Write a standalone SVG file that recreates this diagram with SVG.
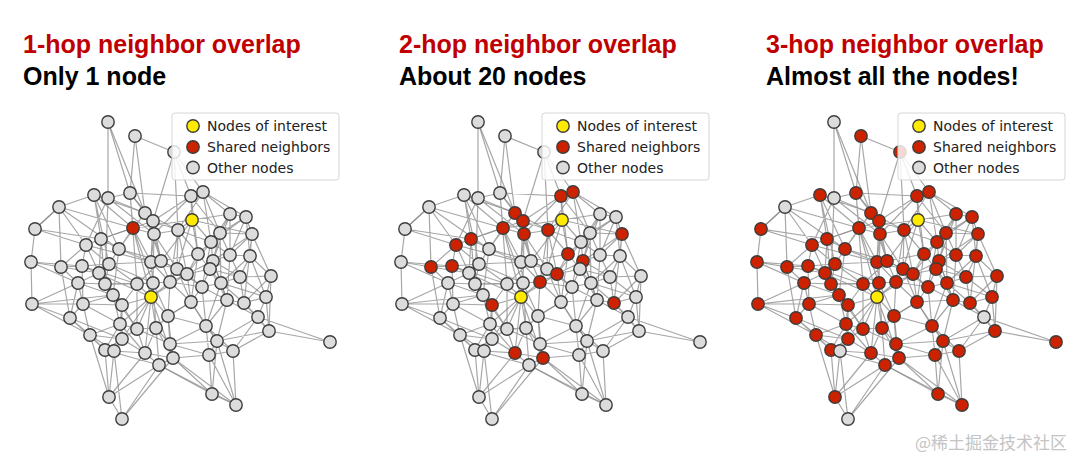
<svg xmlns="http://www.w3.org/2000/svg" xmlns:xlink="http://www.w3.org/1999/xlink" width="1080" height="460" viewBox="0 0 1080 460">
<style>
.t1{font-family:"Liberation Sans",Arial,sans-serif;font-weight:bold;font-size:25px;fill:#c00000}
.t2{font-family:"Liberation Sans",Arial,sans-serif;font-weight:bold;font-size:25px;fill:#000}
.lg{font-family:"DejaVu Sans","Liberation Sans",sans-serif;font-size:14px;fill:#222}
.e{fill:none;stroke:#8a8a8a;stroke-width:1.2;stroke-opacity:0.75}
circle{stroke:#3d3d3d;stroke-width:1.4}
.g{fill:#dcdcdc}
.r{fill:#cc2200}
.y{fill:#ffea00}
.box{fill:#fff;fill-opacity:0.82;stroke:#d6d6d6;stroke-width:1}
.wm{font-family:"Noto Sans CJK SC","Liberation Sans",sans-serif;font-size:17px;fill:#c4c4c4}
</style>
<defs>
<g id="edgeset">
<path class="e" d="M108 122L108 198M108 122L145 213M135 136L174 152M135 136L145 213M174 152L153 221M174 152L178 230M174 152L203 192M94 195L108 198M94 195L59 207M94 195L101 239M94 195L119 249M94 195L109 264M94 195L145 213M108 198L130 193M108 198L86 245M108 198L154 234M108 198L105 284M130 193L145 213M130 193L191 196M130 193L133 228M130 193L137 284M59 207L35 229M59 207L86 245M59 207L61 267M59 207L133 228M191 196L203 192M191 196L192 220M191 196L153 221M191 196L220 233M191 196L154 234M203 192L230 214M203 192L246 217M203 192L178 230M203 192L211 242M145 213L153 221M145 213L133 228M145 213L119 249M145 213L161 261M153 221L154 234M153 221L178 230M153 221L101 239M153 221L151 262M192 220L133 228M192 220L178 230M192 220L230 214M192 220L252 234M192 220L198 254M192 220L211 242M230 214L246 217M230 214L220 233M230 214L230 255M230 214L210 269M246 217L252 234M246 217L250 256M246 217L220 233M35 229L31 262M35 229L86 245M35 229L101 239M133 228L154 234M133 228L101 239M133 228L151 297M133 228L151 262M133 228L119 249M154 234L178 230M154 234L161 261M154 234L177 269M154 234L153 283M178 230L198 254M178 230L177 269M178 230L170 282M220 233L211 242M220 233L252 234M220 233L213 261M220 233L221 283M252 234L250 256M252 234L271 276M252 234L230 255M252 234L244 303M101 239L86 245M101 239L119 249M101 239L99 273M101 239L105 284M86 245L82 266M86 245L61 267M86 245L109 264M119 249L109 264M119 249L151 262M119 249L113 295M211 242L198 254M211 242L213 261M211 242L187 274M211 242L202 287M198 254L161 261M198 254L187 274M198 254L210 269M198 254L191 302M230 255L250 256M230 255L213 261M230 255L240 277M230 255L227 300M250 256L271 276M250 256L240 277M250 256L266 297M31 262L61 267M31 262L32 304M31 262L78 283M61 267L82 266M61 267L78 283M61 267L70 318M82 266L109 264M82 266L99 273M82 266L83 304M82 266L151 297M109 264L105 284M109 264L137 284M109 264L151 262M151 262L161 261M151 262L153 283M151 262L177 269M161 261L177 269M161 261L170 282M161 261L137 284M177 269L187 274M177 269L202 287M177 269L170 282M213 261L210 269M213 261L240 277M213 261L221 283M213 261L187 274M187 274L210 269M187 274L170 282M187 274L191 302M187 274L151 297M210 269L202 287M210 269L221 283M210 269L227 300M99 273L78 283M99 273L105 284M99 273L113 295M271 276L240 277M271 276L266 297M271 276L269 331M240 277L221 283M240 277L244 303M240 277L266 297M78 283L83 304M78 283L70 318M78 283L105 284M105 284L113 295M105 284L137 284M105 284L122 305M137 284L153 283M137 284L122 305M137 284L137 329M153 283L170 282M153 283L151 297M153 283L156 328M170 282L151 297M170 282L168 316M170 282L191 302M202 287L221 283M202 287L191 302M202 287L206 326M221 283L227 300M221 283L244 303M151 297L122 305M151 297L156 328M151 297L145 353M151 297L173 358M151 297L168 316M113 295L122 305M113 295L120 324M113 295L83 304M32 304L83 304M32 304L70 318M32 304L90 335M32 304L113 295M83 304L70 318M83 304L120 324M83 304L90 335M122 305L120 324M122 305L137 329M122 305L122 339M191 302L168 316M191 302L206 326M191 302L227 300M227 300L244 303M227 300L258 317M227 300L206 326M227 300L217 341M244 303L266 297M244 303L258 317M244 303L269 331M266 297L258 317M266 297L269 331M70 318L90 335M70 318L105 350M168 316L156 328M168 316L170 344M168 316L206 326M258 317L269 331M258 317L330 342M258 317L233 351M258 317L217 341M120 324L137 329M120 324L122 339M120 324L105 350M137 329L156 328M137 329L145 353M137 329L122 339M156 328L170 344M156 328L159 365M206 326L217 341M206 326L209 355M206 326L170 344M269 331L330 342M269 331L217 341M269 331L233 351M90 335L122 339M90 335L105 350M90 335L109 397M122 339L114 351M122 339L145 353M170 344L173 358M170 344L209 355M170 344L217 341M217 341L209 355M217 341L233 351M217 341L236 405M105 350L114 351M105 350L109 397M114 351L145 353M114 351L109 397M114 351L122 419M145 353L173 358M145 353L159 365M173 358L159 365M173 358L212 394M173 358L236 405M209 355L233 351M209 355L212 394M233 351L236 405M159 365L109 397M159 365L122 419M159 365L212 394M109 397L122 419M212 394L236 405"/>
<path class="e" d="M94 195L133 228M130 193L153 221M145 213L178 230M108 198L145 213M135 136L130 193M86 245L151 262M119 249L161 261M109 264L153 283M105 284L153 283M82 266L137 284M99 273L122 305M113 295L137 329M78 283L113 295M83 304L122 305M90 335L120 324M122 339L105 350M145 353L156 328M137 329L170 344M156 328L173 358M168 316L173 358M168 316L191 302M170 282L202 287M153 283L168 316M187 274L202 287M177 269L191 302M161 261L187 274M170 282L151 262M154 234L151 262M153 221L161 261M178 230L211 242M178 230L187 274M191 196L198 254M203 192L220 233M230 214L211 242M220 233L230 255M211 242L230 255M213 261L227 300M210 269L240 277M202 287L227 300M221 283L206 326M191 302L217 341M206 326L233 351M170 344L173 358M173 358L209 355M159 365L236 405M59 207L119 249M86 245L99 273M61 267L99 273M31 262L82 266M32 304L78 283M70 318L122 339M90 335L114 351M120 324L145 353M105 350L159 365M109 397L145 353M122 419L173 358M212 394L217 341M236 405L209 355M266 297L221 283M271 276L244 303M250 256L221 283M252 234L213 261M246 217L211 242M246 217L230 255M192 220L177 269M192 220L161 261M133 228L153 283M151 297L137 284M151 297L120 324M151 297L122 339M151 297L137 329M101 239L133 228M35 229L59 207M174 152L191 196M108 122L130 193"/>
</g>
</defs>
<rect width="1080" height="460" fill="#fff"/>

<g id="titles">
<text class="t1" x="23" y="53">1-hop neighbor overlap</text>
<text class="t2" x="23" y="85">Only 1 node</text>
<text class="t1" x="399" y="53">2-hop neighbor overlap</text>
<text class="t2" x="399" y="85">About 20 nodes</text>
<text class="t1" x="766" y="53">3-hop neighbor overlap</text>
<text class="t2" x="766" y="85">Almost all the nodes!</text>
</g>

<!-- Panel 1 -->
<g id="panel1">
<g id="p1-connectors"><use xlink:href="#edgeset" href="#edgeset"/></g>
<g id="p1-nodes">
<g id="p1n1"><circle class="g" cx="108" cy="122" r="6.2"/></g>
<g id="p1n2"><circle class="g" cx="135" cy="136" r="6.2"/></g>
<g id="p1n3"><circle class="g" cx="174" cy="152" r="6.2"/></g>
<g id="p1n4"><circle class="g" cx="94" cy="195" r="6.2"/></g>
<g id="p1n5"><circle class="g" cx="108" cy="198" r="6.2"/></g>
<g id="p1n6"><circle class="g" cx="130" cy="193" r="6.2"/></g>
<g id="p1n7"><circle class="g" cx="59" cy="207" r="6.2"/></g>
<g id="p1n8"><circle class="g" cx="191" cy="196" r="6.2"/></g>
<g id="p1n9"><circle class="g" cx="203" cy="192" r="6.2"/></g>
<g id="p1n10"><circle class="g" cx="145" cy="213" r="6.2"/></g>
<g id="p1n11"><circle class="g" cx="153" cy="221" r="6.2"/></g>
<g id="p1n12"><circle class="y" cx="192" cy="220" r="6.2"/></g>
<g id="p1n13"><circle class="g" cx="230" cy="214" r="6.2"/></g>
<g id="p1n14"><circle class="g" cx="246" cy="217" r="6.2"/></g>
<g id="p1n15"><circle class="g" cx="35" cy="229" r="6.2"/></g>
<g id="p1n16"><circle class="r" cx="133" cy="228" r="6.2"/></g>
<g id="p1n17"><circle class="g" cx="154" cy="234" r="6.2"/></g>
<g id="p1n18"><circle class="g" cx="178" cy="230" r="6.2"/></g>
<g id="p1n19"><circle class="g" cx="220" cy="233" r="6.2"/></g>
<g id="p1n20"><circle class="g" cx="252" cy="234" r="6.2"/></g>
<g id="p1n21"><circle class="g" cx="101" cy="239" r="6.2"/></g>
<g id="p1n22"><circle class="g" cx="86" cy="245" r="6.2"/></g>
<g id="p1n23"><circle class="g" cx="119" cy="249" r="6.2"/></g>
<g id="p1n24"><circle class="g" cx="211" cy="242" r="6.2"/></g>
<g id="p1n25"><circle class="g" cx="198" cy="254" r="6.2"/></g>
<g id="p1n26"><circle class="g" cx="230" cy="255" r="6.2"/></g>
<g id="p1n27"><circle class="g" cx="250" cy="256" r="6.2"/></g>
<g id="p1n28"><circle class="g" cx="31" cy="262" r="6.2"/></g>
<g id="p1n29"><circle class="g" cx="61" cy="267" r="6.2"/></g>
<g id="p1n30"><circle class="g" cx="82" cy="266" r="6.2"/></g>
<g id="p1n31"><circle class="g" cx="109" cy="264" r="6.2"/></g>
<g id="p1n32"><circle class="g" cx="151" cy="262" r="6.2"/></g>
<g id="p1n33"><circle class="g" cx="161" cy="261" r="6.2"/></g>
<g id="p1n34"><circle class="g" cx="177" cy="269" r="6.2"/></g>
<g id="p1n35"><circle class="g" cx="213" cy="261" r="6.2"/></g>
<g id="p1n36"><circle class="g" cx="187" cy="274" r="6.2"/></g>
<g id="p1n37"><circle class="g" cx="210" cy="269" r="6.2"/></g>
<g id="p1n38"><circle class="g" cx="99" cy="273" r="6.2"/></g>
<g id="p1n39"><circle class="g" cx="271" cy="276" r="6.2"/></g>
<g id="p1n40"><circle class="g" cx="240" cy="277" r="6.2"/></g>
<g id="p1n41"><circle class="g" cx="78" cy="283" r="6.2"/></g>
<g id="p1n42"><circle class="g" cx="105" cy="284" r="6.2"/></g>
<g id="p1n43"><circle class="g" cx="137" cy="284" r="6.2"/></g>
<g id="p1n44"><circle class="g" cx="153" cy="283" r="6.2"/></g>
<g id="p1n45"><circle class="g" cx="170" cy="282" r="6.2"/></g>
<g id="p1n46"><circle class="g" cx="202" cy="287" r="6.2"/></g>
<g id="p1n47"><circle class="g" cx="221" cy="283" r="6.2"/></g>
<g id="p1n48"><circle class="y" cx="151" cy="297" r="6.2"/></g>
<g id="p1n49"><circle class="g" cx="113" cy="295" r="6.2"/></g>
<g id="p1n50"><circle class="g" cx="32" cy="304" r="6.2"/></g>
<g id="p1n51"><circle class="g" cx="83" cy="304" r="6.2"/></g>
<g id="p1n52"><circle class="g" cx="122" cy="305" r="6.2"/></g>
<g id="p1n53"><circle class="g" cx="191" cy="302" r="6.2"/></g>
<g id="p1n54"><circle class="g" cx="227" cy="300" r="6.2"/></g>
<g id="p1n55"><circle class="g" cx="244" cy="303" r="6.2"/></g>
<g id="p1n56"><circle class="g" cx="266" cy="297" r="6.2"/></g>
<g id="p1n57"><circle class="g" cx="70" cy="318" r="6.2"/></g>
<g id="p1n58"><circle class="g" cx="168" cy="316" r="6.2"/></g>
<g id="p1n59"><circle class="g" cx="258" cy="317" r="6.2"/></g>
<g id="p1n60"><circle class="g" cx="120" cy="324" r="6.2"/></g>
<g id="p1n61"><circle class="g" cx="137" cy="329" r="6.2"/></g>
<g id="p1n62"><circle class="g" cx="156" cy="328" r="6.2"/></g>
<g id="p1n63"><circle class="g" cx="206" cy="326" r="6.2"/></g>
<g id="p1n64"><circle class="g" cx="269" cy="331" r="6.2"/></g>
<g id="p1n65"><circle class="g" cx="330" cy="342" r="6.2"/></g>
<g id="p1n66"><circle class="g" cx="90" cy="335" r="6.2"/></g>
<g id="p1n67"><circle class="g" cx="122" cy="339" r="6.2"/></g>
<g id="p1n68"><circle class="g" cx="170" cy="344" r="6.2"/></g>
<g id="p1n69"><circle class="g" cx="217" cy="341" r="6.2"/></g>
<g id="p1n70"><circle class="g" cx="105" cy="350" r="6.2"/></g>
<g id="p1n71"><circle class="g" cx="114" cy="351" r="6.2"/></g>
<g id="p1n72"><circle class="g" cx="145" cy="353" r="6.2"/></g>
<g id="p1n73"><circle class="g" cx="173" cy="358" r="6.2"/></g>
<g id="p1n74"><circle class="g" cx="209" cy="355" r="6.2"/></g>
<g id="p1n75"><circle class="g" cx="233" cy="351" r="6.2"/></g>
<g id="p1n76"><circle class="g" cx="159" cy="365" r="6.2"/></g>
<g id="p1n77"><circle class="g" cx="109" cy="397" r="6.2"/></g>
<g id="p1n78"><circle class="g" cx="122" cy="419" r="6.2"/></g>
<g id="p1n79"><circle class="g" cx="212" cy="394" r="6.2"/></g>
<g id="p1n80"><circle class="g" cx="236" cy="405" r="6.2"/></g>
</g>
<g id="p1-legend">
<rect class="box" x="172" y="113" width="167" height="67" rx="3"/>
<circle class="y" cx="193" cy="126" r="6.2"/><text class="lg" x="207" y="131">Nodes of interest</text>
<circle class="r" cx="193" cy="147" r="6.2"/><text class="lg" x="207" y="152">Shared neighbors</text>
<circle class="g" cx="193" cy="167.5" r="6.2"/><text class="lg" x="207" y="172.5">Other nodes</text>
</g>
</g>

<!-- Panel 2 -->
<g id="panel2" transform="translate(370,0)">
<g id="p2-connectors"><use xlink:href="#edgeset" href="#edgeset"/></g>
<g id="p2-nodes">
<g id="p2n1"><circle class="g" cx="108" cy="122" r="6.2"/></g>
<g id="p2n2"><circle class="g" cx="135" cy="136" r="6.2"/></g>
<g id="p2n3"><circle class="g" cx="174" cy="152" r="6.2"/></g>
<g id="p2n4"><circle class="g" cx="94" cy="195" r="6.2"/></g>
<g id="p2n5"><circle class="g" cx="108" cy="198" r="6.2"/></g>
<g id="p2n6"><circle class="g" cx="130" cy="193" r="6.2"/></g>
<g id="p2n7"><circle class="g" cx="59" cy="207" r="6.2"/></g>
<g id="p2n8"><circle class="r" cx="191" cy="196" r="6.2"/></g>
<g id="p2n9"><circle class="r" cx="203" cy="192" r="6.2"/></g>
<g id="p2n10"><circle class="r" cx="145" cy="213" r="6.2"/></g>
<g id="p2n11"><circle class="r" cx="153" cy="221" r="6.2"/></g>
<g id="p2n12"><circle class="y" cx="192" cy="220" r="6.2"/></g>
<g id="p2n13"><circle class="g" cx="230" cy="214" r="6.2"/></g>
<g id="p2n14"><circle class="g" cx="246" cy="217" r="6.2"/></g>
<g id="p2n15"><circle class="g" cx="35" cy="229" r="6.2"/></g>
<g id="p2n16"><circle class="r" cx="133" cy="228" r="6.2"/></g>
<g id="p2n17"><circle class="r" cx="154" cy="234" r="6.2"/></g>
<g id="p2n18"><circle class="r" cx="178" cy="230" r="6.2"/></g>
<g id="p2n19"><circle class="g" cx="220" cy="233" r="6.2"/></g>
<g id="p2n20"><circle class="r" cx="252" cy="234" r="6.2"/></g>
<g id="p2n21"><circle class="r" cx="101" cy="239" r="6.2"/></g>
<g id="p2n22"><circle class="r" cx="86" cy="245" r="6.2"/></g>
<g id="p2n23"><circle class="g" cx="119" cy="249" r="6.2"/></g>
<g id="p2n24"><circle class="g" cx="211" cy="242" r="6.2"/></g>
<g id="p2n25"><circle class="r" cx="198" cy="254" r="6.2"/></g>
<g id="p2n26"><circle class="g" cx="230" cy="255" r="6.2"/></g>
<g id="p2n27"><circle class="g" cx="250" cy="256" r="6.2"/></g>
<g id="p2n28"><circle class="g" cx="31" cy="262" r="6.2"/></g>
<g id="p2n29"><circle class="r" cx="61" cy="267" r="6.2"/></g>
<g id="p2n30"><circle class="r" cx="82" cy="266" r="6.2"/></g>
<g id="p2n31"><circle class="g" cx="109" cy="264" r="6.2"/></g>
<g id="p2n32"><circle class="g" cx="151" cy="262" r="6.2"/></g>
<g id="p2n33"><circle class="g" cx="161" cy="261" r="6.2"/></g>
<g id="p2n34"><circle class="g" cx="177" cy="269" r="6.2"/></g>
<g id="p2n35"><circle class="r" cx="213" cy="261" r="6.2"/></g>
<g id="p2n36"><circle class="r" cx="187" cy="274" r="6.2"/></g>
<g id="p2n37"><circle class="g" cx="210" cy="269" r="6.2"/></g>
<g id="p2n38"><circle class="g" cx="99" cy="273" r="6.2"/></g>
<g id="p2n39"><circle class="g" cx="271" cy="276" r="6.2"/></g>
<g id="p2n40"><circle class="g" cx="240" cy="277" r="6.2"/></g>
<g id="p2n41"><circle class="g" cx="78" cy="283" r="6.2"/></g>
<g id="p2n42"><circle class="g" cx="105" cy="284" r="6.2"/></g>
<g id="p2n43"><circle class="g" cx="137" cy="284" r="6.2"/></g>
<g id="p2n44"><circle class="g" cx="153" cy="283" r="6.2"/></g>
<g id="p2n45"><circle class="r" cx="170" cy="282" r="6.2"/></g>
<g id="p2n46"><circle class="g" cx="202" cy="287" r="6.2"/></g>
<g id="p2n47"><circle class="g" cx="221" cy="283" r="6.2"/></g>
<g id="p2n48"><circle class="y" cx="151" cy="297" r="6.2"/></g>
<g id="p2n49"><circle class="g" cx="113" cy="295" r="6.2"/></g>
<g id="p2n50"><circle class="g" cx="32" cy="304" r="6.2"/></g>
<g id="p2n51"><circle class="g" cx="83" cy="304" r="6.2"/></g>
<g id="p2n52"><circle class="r" cx="122" cy="305" r="6.2"/></g>
<g id="p2n53"><circle class="g" cx="191" cy="302" r="6.2"/></g>
<g id="p2n54"><circle class="g" cx="227" cy="300" r="6.2"/></g>
<g id="p2n55"><circle class="r" cx="244" cy="303" r="6.2"/></g>
<g id="p2n56"><circle class="g" cx="266" cy="297" r="6.2"/></g>
<g id="p2n57"><circle class="g" cx="70" cy="318" r="6.2"/></g>
<g id="p2n58"><circle class="g" cx="168" cy="316" r="6.2"/></g>
<g id="p2n59"><circle class="g" cx="258" cy="317" r="6.2"/></g>
<g id="p2n60"><circle class="g" cx="120" cy="324" r="6.2"/></g>
<g id="p2n61"><circle class="g" cx="137" cy="329" r="6.2"/></g>
<g id="p2n62"><circle class="g" cx="156" cy="328" r="6.2"/></g>
<g id="p2n63"><circle class="g" cx="206" cy="326" r="6.2"/></g>
<g id="p2n64"><circle class="g" cx="269" cy="331" r="6.2"/></g>
<g id="p2n65"><circle class="g" cx="330" cy="342" r="6.2"/></g>
<g id="p2n66"><circle class="g" cx="90" cy="335" r="6.2"/></g>
<g id="p2n67"><circle class="g" cx="122" cy="339" r="6.2"/></g>
<g id="p2n68"><circle class="g" cx="170" cy="344" r="6.2"/></g>
<g id="p2n69"><circle class="g" cx="217" cy="341" r="6.2"/></g>
<g id="p2n70"><circle class="g" cx="105" cy="350" r="6.2"/></g>
<g id="p2n71"><circle class="g" cx="114" cy="351" r="6.2"/></g>
<g id="p2n72"><circle class="r" cx="145" cy="353" r="6.2"/></g>
<g id="p2n73"><circle class="r" cx="173" cy="358" r="6.2"/></g>
<g id="p2n74"><circle class="g" cx="209" cy="355" r="6.2"/></g>
<g id="p2n75"><circle class="g" cx="233" cy="351" r="6.2"/></g>
<g id="p2n76"><circle class="g" cx="159" cy="365" r="6.2"/></g>
<g id="p2n77"><circle class="g" cx="109" cy="397" r="6.2"/></g>
<g id="p2n78"><circle class="g" cx="122" cy="419" r="6.2"/></g>
<g id="p2n79"><circle class="g" cx="212" cy="394" r="6.2"/></g>
<g id="p2n80"><circle class="g" cx="236" cy="405" r="6.2"/></g>
</g>
<g id="p2-legend">
<rect class="box" x="172" y="113" width="167" height="67" rx="3"/>
<circle class="y" cx="193" cy="126" r="6.2"/><text class="lg" x="207" y="131">Nodes of interest</text>
<circle class="r" cx="193" cy="147" r="6.2"/><text class="lg" x="207" y="152">Shared neighbors</text>
<circle class="g" cx="193" cy="167.5" r="6.2"/><text class="lg" x="207" y="172.5">Other nodes</text>
</g>
</g>

<!-- Panel 3 -->
<g id="panel3" transform="translate(726,0)">
<g id="p3-connectors"><use xlink:href="#edgeset" href="#edgeset"/></g>
<g id="p3-nodes">
<g id="p3n1"><circle class="g" cx="108" cy="122" r="6.2"/></g>
<g id="p3n2"><circle class="r" cx="135" cy="136" r="6.2"/></g>
<g id="p3n3"><circle class="r" cx="174" cy="152" r="6.2"/></g>
<g id="p3n4"><circle class="r" cx="94" cy="195" r="6.2"/></g>
<g id="p3n5"><circle class="g" cx="108" cy="198" r="6.2"/></g>
<g id="p3n6"><circle class="r" cx="130" cy="193" r="6.2"/></g>
<g id="p3n7"><circle class="g" cx="59" cy="207" r="6.2"/></g>
<g id="p3n8"><circle class="r" cx="191" cy="196" r="6.2"/></g>
<g id="p3n9"><circle class="r" cx="203" cy="192" r="6.2"/></g>
<g id="p3n10"><circle class="r" cx="145" cy="213" r="6.2"/></g>
<g id="p3n11"><circle class="r" cx="153" cy="221" r="6.2"/></g>
<g id="p3n12"><circle class="y" cx="192" cy="220" r="6.2"/></g>
<g id="p3n13"><circle class="r" cx="230" cy="214" r="6.2"/></g>
<g id="p3n14"><circle class="r" cx="246" cy="217" r="6.2"/></g>
<g id="p3n15"><circle class="r" cx="35" cy="229" r="6.2"/></g>
<g id="p3n16"><circle class="r" cx="133" cy="228" r="6.2"/></g>
<g id="p3n17"><circle class="r" cx="154" cy="234" r="6.2"/></g>
<g id="p3n18"><circle class="r" cx="178" cy="230" r="6.2"/></g>
<g id="p3n19"><circle class="r" cx="220" cy="233" r="6.2"/></g>
<g id="p3n20"><circle class="r" cx="252" cy="234" r="6.2"/></g>
<g id="p3n21"><circle class="r" cx="101" cy="239" r="6.2"/></g>
<g id="p3n22"><circle class="r" cx="86" cy="245" r="6.2"/></g>
<g id="p3n23"><circle class="r" cx="119" cy="249" r="6.2"/></g>
<g id="p3n24"><circle class="r" cx="211" cy="242" r="6.2"/></g>
<g id="p3n25"><circle class="r" cx="198" cy="254" r="6.2"/></g>
<g id="p3n26"><circle class="r" cx="230" cy="255" r="6.2"/></g>
<g id="p3n27"><circle class="r" cx="250" cy="256" r="6.2"/></g>
<g id="p3n28"><circle class="r" cx="31" cy="262" r="6.2"/></g>
<g id="p3n29"><circle class="r" cx="61" cy="267" r="6.2"/></g>
<g id="p3n30"><circle class="r" cx="82" cy="266" r="6.2"/></g>
<g id="p3n31"><circle class="r" cx="109" cy="264" r="6.2"/></g>
<g id="p3n32"><circle class="r" cx="151" cy="262" r="6.2"/></g>
<g id="p3n33"><circle class="r" cx="161" cy="261" r="6.2"/></g>
<g id="p3n34"><circle class="r" cx="177" cy="269" r="6.2"/></g>
<g id="p3n35"><circle class="r" cx="213" cy="261" r="6.2"/></g>
<g id="p3n36"><circle class="r" cx="187" cy="274" r="6.2"/></g>
<g id="p3n37"><circle class="r" cx="210" cy="269" r="6.2"/></g>
<g id="p3n38"><circle class="r" cx="99" cy="273" r="6.2"/></g>
<g id="p3n39"><circle class="r" cx="271" cy="276" r="6.2"/></g>
<g id="p3n40"><circle class="r" cx="240" cy="277" r="6.2"/></g>
<g id="p3n41"><circle class="r" cx="78" cy="283" r="6.2"/></g>
<g id="p3n42"><circle class="r" cx="105" cy="284" r="6.2"/></g>
<g id="p3n43"><circle class="r" cx="137" cy="284" r="6.2"/></g>
<g id="p3n44"><circle class="r" cx="153" cy="283" r="6.2"/></g>
<g id="p3n45"><circle class="r" cx="170" cy="282" r="6.2"/></g>
<g id="p3n46"><circle class="r" cx="202" cy="287" r="6.2"/></g>
<g id="p3n47"><circle class="r" cx="221" cy="283" r="6.2"/></g>
<g id="p3n48"><circle class="y" cx="151" cy="297" r="6.2"/></g>
<g id="p3n49"><circle class="r" cx="113" cy="295" r="6.2"/></g>
<g id="p3n50"><circle class="r" cx="32" cy="304" r="6.2"/></g>
<g id="p3n51"><circle class="r" cx="83" cy="304" r="6.2"/></g>
<g id="p3n52"><circle class="r" cx="122" cy="305" r="6.2"/></g>
<g id="p3n53"><circle class="r" cx="191" cy="302" r="6.2"/></g>
<g id="p3n54"><circle class="r" cx="227" cy="300" r="6.2"/></g>
<g id="p3n55"><circle class="r" cx="244" cy="303" r="6.2"/></g>
<g id="p3n56"><circle class="r" cx="266" cy="297" r="6.2"/></g>
<g id="p3n57"><circle class="r" cx="70" cy="318" r="6.2"/></g>
<g id="p3n58"><circle class="r" cx="168" cy="316" r="6.2"/></g>
<g id="p3n59"><circle class="g" cx="258" cy="317" r="6.2"/></g>
<g id="p3n60"><circle class="r" cx="120" cy="324" r="6.2"/></g>
<g id="p3n61"><circle class="r" cx="137" cy="329" r="6.2"/></g>
<g id="p3n62"><circle class="r" cx="156" cy="328" r="6.2"/></g>
<g id="p3n63"><circle class="r" cx="206" cy="326" r="6.2"/></g>
<g id="p3n64"><circle class="r" cx="269" cy="331" r="6.2"/></g>
<g id="p3n65"><circle class="r" cx="330" cy="342" r="6.2"/></g>
<g id="p3n66"><circle class="r" cx="90" cy="335" r="6.2"/></g>
<g id="p3n67"><circle class="r" cx="122" cy="339" r="6.2"/></g>
<g id="p3n68"><circle class="r" cx="170" cy="344" r="6.2"/></g>
<g id="p3n69"><circle class="r" cx="217" cy="341" r="6.2"/></g>
<g id="p3n70"><circle class="r" cx="105" cy="350" r="6.2"/></g>
<g id="p3n71"><circle class="g" cx="114" cy="351" r="6.2"/></g>
<g id="p3n72"><circle class="r" cx="145" cy="353" r="6.2"/></g>
<g id="p3n73"><circle class="r" cx="173" cy="358" r="6.2"/></g>
<g id="p3n74"><circle class="r" cx="209" cy="355" r="6.2"/></g>
<g id="p3n75"><circle class="r" cx="233" cy="351" r="6.2"/></g>
<g id="p3n76"><circle class="r" cx="159" cy="365" r="6.2"/></g>
<g id="p3n77"><circle class="r" cx="109" cy="397" r="6.2"/></g>
<g id="p3n78"><circle class="g" cx="122" cy="419" r="6.2"/></g>
<g id="p3n79"><circle class="r" cx="212" cy="394" r="6.2"/></g>
<g id="p3n80"><circle class="r" cx="236" cy="405" r="6.2"/></g>
</g>
<g id="p3-legend">
<rect class="box" x="172" y="113" width="167" height="67" rx="3"/>
<circle class="y" cx="193" cy="126" r="6.2"/><text class="lg" x="207" y="131">Nodes of interest</text>
<circle class="r" cx="193" cy="147" r="6.2"/><text class="lg" x="207" y="152">Shared neighbors</text>
<circle class="g" cx="193" cy="167.5" r="6.2"/><text class="lg" x="207" y="172.5">Other nodes</text>
</g>
</g>

<text class="wm" x="915" y="449">@稀土掘金技术社区</text>
</svg>
